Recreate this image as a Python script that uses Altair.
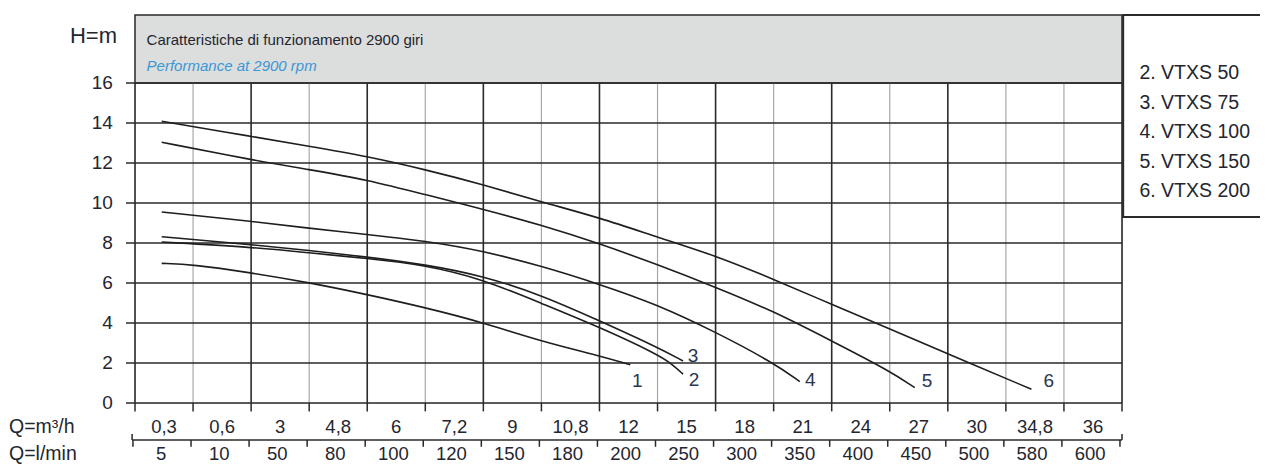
import altair as alt
import pandas as pd

# ---------------- data ----------------
# flow axis: 17 equal cells, labels sit in the middle of each cell
q_m3h = ["0,3", "0,6", "3", "4,8", "6", "7,2", "9", "10,8", "12", "15",
         "18", "21", "24", "27", "30", "34,8", "36"]
q_lmin = ["5", "10", "50", "80", "100", "120", "150", "180", "200", "250",
          "300", "350", "400", "450", "500", "580", "600"]
h_ticks = [0, 2, 4, 6, 8, 10, 12, 14, 16]

# curve points: q = position along the flow axis (in grid cells), h = head in m
c1_q = [0.46, 0.99, 1.98, 3.0, 3.99, 5.0, 6.0, 7.0, 8.01, 8.53]
c1_h = [6.98, 6.93, 6.52, 6.02, 5.43, 4.77, 4.02, 3.08, 2.36, 1.91]
c2_q = [0.46, 1.98, 3.0, 3.99, 5.0, 6.0, 7.0, 8.01, 8.99, 9.25, 9.44]
c2_h = [8.05, 7.80, 7.51, 7.23, 6.90, 6.18, 4.98, 3.78, 2.45, 1.95, 1.44]
c3_q = [0.46, 1.98, 3.0, 3.99, 5.0, 6.0, 7.0, 8.01, 8.99, 9.44]
c3_h = [8.31, 7.93, 7.63, 7.30, 6.93, 6.35, 5.40, 4.10, 2.80, 2.10]
c4_q = [0.46, 1.98, 3.0, 3.99, 5.0, 6.0, 7.0, 8.01, 8.99, 10.02, 10.99, 11.45]
c4_h = [9.55, 9.10, 8.73, 8.43, 8.10, 7.60, 6.85, 5.93, 4.93, 3.52, 2.02, 1.07]
c5_q = [0.46, 1.98, 3.0, 3.99, 5.0, 6.0, 7.0, 8.01, 8.99, 10.02, 10.99, 12.0, 13.0, 13.43]
c5_h = [13.04, 12.17, 11.67, 11.17, 10.42, 9.68, 8.90, 7.96, 6.93, 5.77, 4.60, 3.10, 1.60, 0.77]
c6_q = [0.46, 1.98, 3.0, 3.99, 5.0, 6.0, 7.0, 8.01, 8.99, 10.02, 10.99, 12.0, 13.0, 14.01, 15.44]
c6_h = [14.09, 13.34, 12.84, 12.34, 11.67, 10.92, 10.05, 9.26, 8.30, 7.35, 6.20, 4.93, 3.70, 2.44, 0.69]

curve_ids = ["1", "2", "3", "4", "5", "6"]
curve_label_q = [8.65, 9.63, 9.61, 11.63, 13.64, 15.74]
curve_label_h = [1.12, 1.17, 2.37, 1.17, 1.12, 1.12]

legend_names = ["2. VTXS 50", "3. VTXS 75", "4. VTXS 100", "5. VTXS 150", "6. VTXS 200"]

title_main = "Caratteristiche di funzionamento 2900 giri"
title_sub = "Performance at 2900 rpm"
y_title = "H=m"
row1_title = "Q=m³/h"
row2_title = "Q=l/min"

# ---------------- styling ----------------
FONT = "Liberation Sans"
TXT = "#23262f"
DARK = "#2a2a2a"
W, H = 987, 320
n = len(q_m3h)

xs = alt.Scale(domain=[0, n], nice=False, zero=False)
ys = alt.Scale(domain=[0, 16], nice=False, zero=False)


def X(f="q"):
    return alt.X(f"{f}:Q", scale=xs, axis=None)


def Y(f="h"):
    return alt.Y(f"{f}:Q", scale=ys, axis=None)


rows = []
for cid, qq, hh in zip(curve_ids, [c1_q, c2_q, c3_q, c4_q, c5_q, c6_q],
                       [c1_h, c2_h, c3_h, c4_h, c5_h, c6_h]):
    for a, b in zip(qq, hh):
        rows.append({"pump": cid, "q": a, "h": b})
curves_df = pd.DataFrame(rows)

# vertical grid (cell boundaries): even lines dark, odd lines light
bounds = list(range(n + 1))
major_q = [i for i in bounds if (i % 2 == 0 and i != n - 1) or i == n]
minor_q = [i for i in bounds if i not in major_q]

TICK = 0.155   # 9 px in x-cells
TICKH = 0.42   # ~8 px in metres


def vrule(qs, h0, h1):
    return pd.DataFrame({"q": qs, "h": [h0] * len(qs), "h2": [h1] * len(qs)})


def hrule(hs, q0, q1):
    return pd.DataFrame({"h": hs, "q": [q0] * len(hs), "q2": [q1] * len(hs)})


def vr(df, color, sw):
    return alt.Chart(df).mark_rule(color=color, strokeWidth=sw).encode(x=X(), y=Y(), y2="h2:Q")


def hr(df, color, sw):
    return alt.Chart(df).mark_rule(color=color, strokeWidth=sw).encode(y=Y(), x=X(), x2="q2:Q")


def txt(df, size, color=TXT, align="center", baseline="middle", **kw):
    return alt.Chart(df).mark_text(font=FONT, fontSize=size, color=color, align=align,
                                   baseline=baseline, **kw).encode(x=X(), y=Y(), text="t:N")


# title box and legend box (drawn in data units outside the plot area)
title_box = alt.Chart(pd.DataFrame([{"q": 0, "q2": n, "h": 16, "h2": 19.4}])).mark_rect(
    fill="#dcdddd", stroke=DARK, strokeWidth=1.5).encode(x=X(), x2="q2:Q", y=Y(), y2="h2:Q")
legend_box = alt.Chart(pd.DataFrame([{"q": n + 0.02, "q2": n + 2.8, "h": 9.3, "h2": 19.4}])).mark_rect(
    fill="white", stroke=DARK, strokeWidth=2).encode(x=X(), x2="q2:Q", y=Y(), y2="h2:Q")

minor_grid = vr(vrule(minor_q, 0, 16), "#a8a8a8", 1.2)
major_grid = vr(vrule(major_q, 0, 16), DARK, 1.6)
h_grid = hr(hrule(h_ticks, -TICK, n), DARK, 1.6)           # incl. y ticks on the left
x_ticks = vr(vrule(bounds, 0, -TICKH), DARK, 1.5)          # ticks of the m3/h axis

y_labels = txt(pd.DataFrame({"h": h_ticks, "q": [-0.38] * len(h_ticks),
                             "t": [str(v) for v in h_ticks]}), 19, align="right")

lines = alt.Chart(curves_df).mark_line(color="#1e1e1e", strokeWidth=1.6, interpolate="basis").encode(
    x=X(), y=Y(), detail="pump:N")

# second flow axis (l/min) below the first one
bot_y = -1.85
row1_y = -1.22
row2_y = -2.53
bot_line = hr(hrule([bot_y], -0.05, n), DARK, 1.5)
bot_ticks = vr(vrule([i - 0.035 for i in bounds], bot_y, bot_y - 0.34), DARK, 1.5)
end_ticks = vr(vrule([-0.05, n], bot_y, bot_y + 0.3), DARK, 1.5)

row1 = txt(pd.DataFrame({"q": [i + 0.5 for i in range(n)], "h": [row1_y] * n, "t": q_m3h}), 18.5)
row2 = txt(pd.DataFrame({"q": [i + 0.45 for i in range(n)], "h": [row2_y] * n, "t": q_lmin}), 18.5)
side_txt = txt(pd.DataFrame({"q": [-2.17, -2.17], "h": [row1_y, row2_y], "t": [row1_title, row2_title]}),
               19.5, align="left")

ytitle = txt(pd.DataFrame({"q": [-0.31], "h": [18.35], "t": [y_title]}), 22, align="right")
t_main = txt(pd.DataFrame({"q": [0.2], "h": [17.92], "t": [title_main]}), 15, align="left",
             baseline="alphabetic")
t_sub = txt(pd.DataFrame({"q": [0.2], "h": [16.62], "t": [title_sub]}), 15, color="#3b97d6",
            align="left", baseline="alphabetic", fontStyle="italic")

leg_txt = txt(pd.DataFrame({"q": [n + 0.3] * len(legend_names),
                            "h": [16.5 - 1.48 * i for i in range(len(legend_names))],
                            "t": legend_names}), 19.5, align="left")

curve_labels = txt(pd.DataFrame({"q": curve_label_q, "h": curve_label_h, "t": curve_ids}), 19,
                   color="#2a3550")

chart = alt.layer(
    title_box, legend_box, minor_grid, major_grid, h_grid, x_ticks, y_labels, lines,
    bot_line, bot_ticks, end_ticks, row1, row2, side_txt, ytitle,
    t_main, t_sub, leg_txt, curve_labels,
).properties(
    width=W, height=H,
    autosize="none",
    padding={"left": 127, "top": 75, "right": 138, "bottom": 61},
).configure_view(stroke=None).configure(background="white")

chart.save("out.html", embed_options={"renderer": "svg", "actions": False})
